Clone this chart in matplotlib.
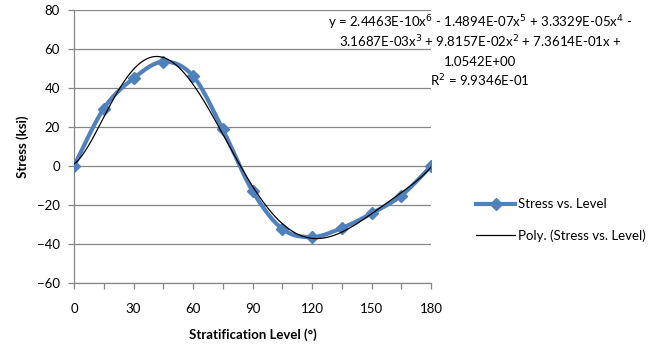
import numpy as np
import matplotlib
matplotlib.use("Agg")
import matplotlib.pyplot as plt
from matplotlib.lines import Line2D

plt.rcParams['font.family'] = ['Lato', 'DejaVu Sans']

level = [0, 15, 30, 45, 60, 75, 90, 105, 120, 135, 150, 165, 180]
stress = [0, 29.5, 45, 53.5, 46.2, 18.8, -12.7, -32.1, -36.3, -31.7, -24.2, -15.1, 0]
series_label = "Stress vs. Level"
trend_label = "Poly. (Stress vs. Level)"
equation_lines = [
    "y = 2.4463E-10x$^6$ - 1.4894E-07x$^5$ + 3.3329E-05x$^4$ -",
    "3.1687E-03x$^3$ + 9.8157E-02x$^2$ + 7.3614E-01x +",
    "1.0542E+00",
    "R$^2$ = 9.9346E-01",
]
x_ticks = [0, 30, 60, 90, 120, 150, 180]
y_ticks = [-60, -40, -20, 0, 20, 40, 60, 80]

BLUE = '#4F81BD'
GRID = '#868686'

W, H = 655, 354
fig = plt.figure(figsize=(W / 100, H / 100), dpi=100)
ax = fig.add_axes([74 / W, 1 - 283.3 / H, (431 - 74) / W, (283.3 - 10) / H])

# Catmull-Rom smoothing like Excel's smoothed line
def catmull_rom(xs, ys, n=20):
    P = np.column_stack([xs, ys]).astype(float)
    P = np.vstack([P[0], P, P[-1]])
    out = []
    t = np.linspace(0, 1, n, endpoint=False)[:, None]
    for i in range(1, len(P) - 2):
        p0, p1, p2, p3 = P[i - 1], P[i], P[i + 1], P[i + 2]
        seg = 0.5 * ((2 * p1) + (-p0 + p2) * t + (2 * p0 - 5 * p1 + 4 * p2 - p3) * t ** 2
                     + (-p0 + 3 * p1 - 3 * p2 + p3) * t ** 3)
        out.append(seg)
    out.append(P[-2][None, :])
    out = np.vstack(out)
    return out[:, 0], out[:, 1]

sx, sy = catmull_rom(level, stress)
ax.plot(sx, sy, color=BLUE, lw=3.0, solid_capstyle='round', zorder=3)
ax.plot(level, stress, ls='none', marker='D', ms=6.5, color=BLUE, zorder=4)

coef = np.polyfit(level, stress, 6)
tx = np.linspace(0, 180, 400)
ax.plot(tx, np.polyval(coef, tx), color='black', lw=0.9, zorder=5)

ax.set_xlim(0, 180)
ax.set_ylim(-60, 80)
ax.set_xticks(np.arange(0, 181, 15))
ax.set_xticklabels([str(v) if v in x_ticks else '' for v in range(0, 181, 15)])
ax.set_yticks(y_ticks)
ax.grid(axis='y', color=GRID, lw=0.9)
ax.set_axisbelow(True)
for s in ['top', 'right']:
    ax.spines[s].set_visible(False)
for s in ['left', 'bottom']:
    ax.spines[s].set_color(GRID)
    ax.spines[s].set_linewidth(0.9)
# x axis at bottom (-60)
ax.tick_params(axis='both', colors=GRID, labelcolor='black', labelsize=9.5, length=4, width=0.9)
ax.tick_params(axis='x', pad=10)
ax.tick_params(axis='y', pad=6)

ax.set_xlabel("Stratification Level (°)", fontsize=9.5, fontweight='bold', labelpad=10)
ax.set_ylabel("Stress (ksi)", fontsize=9.5, fontweight='bold', labelpad=6)

ys = [23, 42, 61.5, 80.5]
for line, yp in zip(equation_lines, ys):
    fig.text(480 / W, 1 - yp / H, line, ha='center', va='center', fontsize=9.5)

handles = [
    Line2D([], [], color=BLUE, lw=3.0, marker='D', ms=6.5),
    Line2D([], [], color='black', lw=0.9),
]
fig.legend(handles, [series_label, trend_label], loc='center left',
           bbox_to_anchor=(464 / W, 1 - 220 / H), frameon=False, fontsize=9.5,
           handlelength=3.0, handletextpad=0.2, labelspacing=1.4)

fig.savefig('out.png', dpi=100)
